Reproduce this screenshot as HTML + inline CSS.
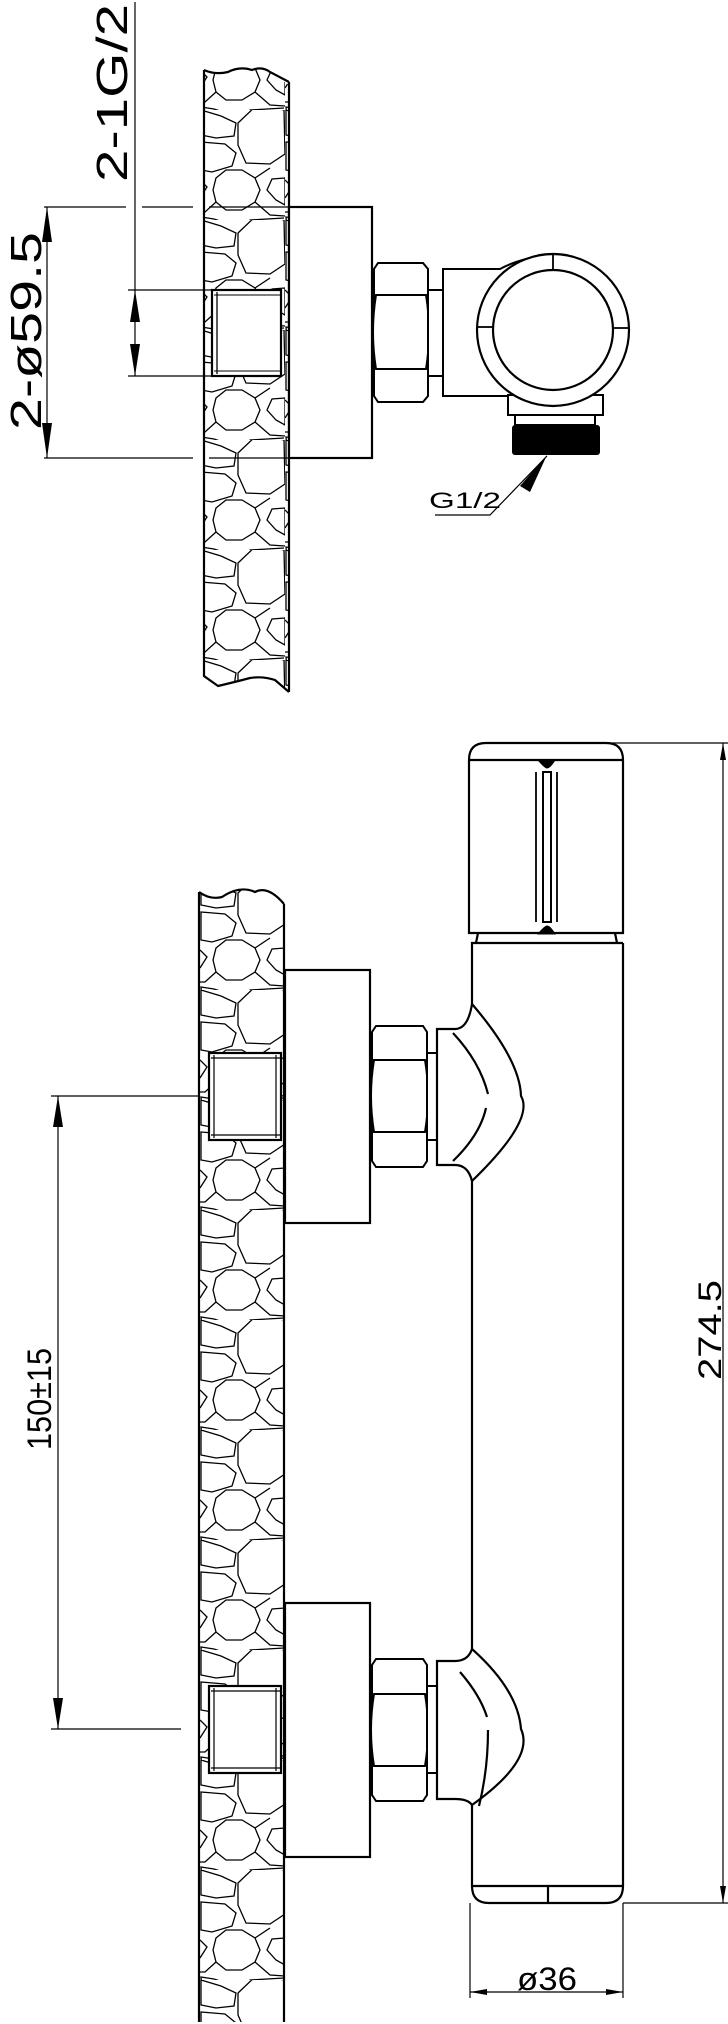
<!DOCTYPE html>
<html><head><meta charset="utf-8"><style>
html,body{margin:0;padding:0;background:#fff}
svg{display:block}
text{font-family:"Liberation Sans",sans-serif;fill:#000;font-weight:normal}
</style></head><body>
<svg width="728" height="2024" viewBox="0 0 728 2024" xmlns="http://www.w3.org/2000/svg">
<defs>
<pattern id="stone" x="200" y="0" width="85" height="110" patternUnits="userSpaceOnUse">
<g fill="none" stroke="#000" stroke-width="1.3" transform="translate(0,80)">
<polygon points="26,-20 42,-20 55,-12 60,0 55,12 42,20 26,20 16,12 13,0 16,-12"/>
<polygon points="1,-80 21,-74 36,-67 34,-54 16,-52 1,-55"/>
<polygon points="1,-48 25,-46 36,-37 32,-24 12,-18 1,-20"/>
<polygon points="38,-67 58,-86 84,-80 85,-36 70,-26 46,-27 38,-45"/>
<polygon points="85,-12 72,-11 67,0 76,10 85,15"/>
<polyline points="0,-10 7,-3 0,8"/>
<polygon points="1,27 14,29 35,36 39,46 35,58 18,58 3,52"/>
<polyline points="55,12 70,25 85,26"/>
<polyline points="38,46 50,30 84,28"/>
<polyline points="16,12 5,22 0,22"/>
<polyline points="55,-12 70,-22"/>
</g>
</pattern>
</defs>

<!-- ===== TOP VIEW ===== -->
<path d="M204,70 Q215,75 228,72 Q240,66 252,70 Q262,66 270,72 L289,85 L289,692 L275,680 Q262,676 250,678 Q235,682 222,686 L204,676 Z" fill="url(#stone)" stroke="none"/>
<path d="M204,70 L204,676 L218,686 Q235,682 250,678 Q262,676 275,680 L289,692 M289,82 L289,692 M204,70 Q215,75 228,72 Q240,66 252,70 Q262,66 270,72 L289,82" fill="none" stroke="#000" stroke-width="2.2"/>
<rect x="289" y="207" width="83" height="251" fill="#fff" stroke="#000" stroke-width="2.2"/>
<rect x="212" y="290" width="69" height="86" fill="#fff" stroke="#000" stroke-width="2.2"/>
<line x1="217" y1="292" x2="217" y2="374" stroke="#000" stroke-width="1.3"/>
<line x1="214" y1="295" x2="281" y2="295" stroke="#000" stroke-width="1"/>
<line x1="214" y1="371" x2="281" y2="371" stroke="#000" stroke-width="1"/>
<g fill="#fff" stroke="#000" stroke-width="2">
<path d="M378,263 L423,263 L428,269 L428,396 L423,402 L378,402 L374,396 L374,269 Z"/>
<path d="M376,295 L426,295 Q432,332 426,369 L376,369 Q370,332 376,295 Z"/>
<rect x="428" y="290" width="15" height="86"/>
<path d="M443,269 L500,269 Q520,258 553,254 L553,396 L443,396 Z"/>
<rect x="508" y="395" width="95" height="20"/>
<rect x="515" y="415" width="80" height="10"/>
</g>
<rect x="512" y="425" width="88" height="30" rx="3" fill="#000"/>
<circle cx="553" cy="330" r="76" fill="#fff" stroke="#000" stroke-width="2.2"/>
<circle cx="553" cy="330" r="60" fill="#fff" stroke="#000" stroke-width="2.2"/>
<g stroke="#000" stroke-width="1.8">
<line x1="553" y1="254" x2="553" y2="270"/>
<line x1="477" y1="327" x2="493" y2="327"/>
<line x1="613" y1="328" x2="629" y2="328"/>
</g>
<polyline points="547,456 490,515 435,515" fill="none" stroke="#000" stroke-width="1.2"/>
<polygon points="547,455 520,486 530,492" fill="#000"/>
<text x="429" y="508" font-size="22" textLength="72" lengthAdjust="spacingAndGlyphs">G1/2</text>
<g stroke="#000" stroke-width="1.2" fill="none">
<line x1="135" y1="2" x2="135" y2="376"/>
<path d="M44,207 L126,207 M142,207 L193,207 M209,207 L289,207"/>
<path d="M44,458 L193,458 M209,458 L289,458"/>
<line x1="47" y1="207" x2="47" y2="458"/>
<line x1="128" y1="290" x2="212" y2="290"/>
<line x1="128" y1="376" x2="212" y2="376"/>
</g>
<g fill="#000">
<polygon points="47,207 42,242 52,242"/>
<polygon points="47,458 42,423 52,423"/>
<polygon points="135,290 130,322 140,322"/>
<polygon points="135,376 130,344 140,344"/>
</g>
<text transform="translate(127,182) rotate(-90)" font-size="44" textLength="178" lengthAdjust="spacingAndGlyphs">2-1G/2</text>
<text transform="translate(41,430) rotate(-90)" font-size="44" textLength="198" lengthAdjust="spacingAndGlyphs">2-ø59.5</text>

<!-- ===== FRONT VIEW ===== -->
<path d="M199,892 Q210,900 222,897 Q240,885 255,892 Q268,885 284,904 L284,2022 L199,2022 Z" fill="url(#stone)" stroke="none"/>
<path d="M199,892 L199,2022 M284,904 L284,2022 M199,892 Q210,900 222,897 Q240,885 255,892 Q268,885 284,904" fill="none" stroke="#000" stroke-width="2.2"/>
<g fill="#fff" stroke="#000" stroke-width="2.2">
<rect x="285" y="970" width="85" height="253"/>
<rect x="285" y="1603" width="85" height="254"/>
<rect x="209" y="1053" width="72" height="87"/>
<rect x="209" y="1686" width="72" height="87"/>
</g>
<g stroke="#000" stroke-width="1.2">
<line x1="214" y1="1055" x2="214" y2="1138"/><line x1="211" y1="1058" x2="281" y2="1058"/><line x1="211" y1="1135" x2="281" y2="1135"/><line x1="276" y1="1055" x2="276" y2="1138"/>
<line x1="214" y1="1688" x2="214" y2="1771"/><line x1="211" y1="1691" x2="281" y2="1691"/><line x1="211" y1="1768" x2="281" y2="1768"/><line x1="276" y1="1688" x2="276" y2="1771"/>
</g>
<g fill="#fff" stroke="#000" stroke-width="2">
<path d="M376,1026 L423,1026 L427,1032 L427,1161 L423,1167 L376,1167 L372,1161 L372,1032 Z"/>
<path d="M374,1060 L425,1060 Q431,1096 425,1132 L374,1132 Q368,1096 374,1060 Z"/>
<rect x="427" y="1053" width="10" height="87"/>
<path d="M376,1659 L423,1659 L427,1665 L427,1795 L423,1801 L376,1801 L372,1795 L372,1665 Z"/>
<path d="M374,1694 L425,1694 Q431,1730 425,1766 L374,1766 Q368,1730 374,1694 Z"/>
<rect x="427" y="1686" width="10" height="87"/>
</g>
<g fill="none" stroke="#000" stroke-width="2.2">
<path d="M623,943 L623,1886 Q623,1903 606,1903 L489,1903 Q472,1903 472,1886 L472,1805"/>
<line x1="472" y1="1886" x2="623" y2="1886"/>
<line x1="548" y1="1886" x2="548" y2="1903"/>
<path d="M472,1649 L472,1181 M472,1004 L472,943 L623,943"/>
<path d="M472,1004 Q468,1029 455,1029 L437,1029 L437,1165 L455,1165 Q468,1165 472,1181 Q535,1120 521,1096 Q520,1060 472,1004 Z" fill="#fff"/>
<path d="M453,1033 Q480,1062 488,1094"/>
<path d="M486,1108 Q480,1135 453,1161"/>
<path d="M472,1649 Q468,1661 455,1661 L437,1661 L437,1799 L455,1799 Q468,1799 472,1805 Q535,1760 521,1729 Q518,1690 472,1649 Z" fill="#fff"/>
<path d="M460,1672 Q480,1695 487,1717"/>
<path d="M488,1730 Q488,1770 479,1806"/>
</g>
<g fill="#fff" stroke="#000" stroke-width="2.2">
<path d="M469,933 L469,760 Q469,743 486,743 L606,743 Q623,743 623,760 L623,933 Z"/>
<line x1="469" y1="760" x2="623" y2="760"/>
<path d="M478,933 L476,943 M615,933 L617,943" fill="none"/>
</g>
<g stroke="#000" fill="none">
<rect x="543" y="772" width="8" height="150" stroke-width="2"/>
<line x1="536" y1="772" x2="536" y2="922" stroke-width="1.8"/>
<line x1="557" y1="772" x2="557" y2="922" stroke-width="1.8"/>
<path d="M538,760 Q545,768 547,768 Q550,768 555,760 Z M538,934 Q545,926 547,926 Q550,926 555,934 Z" fill="#000" stroke-width="1"/>
</g>
<g stroke="#000" stroke-width="1.2" fill="none">
<line x1="609" y1="743" x2="728" y2="743"/>
<line x1="623" y1="1903" x2="728" y2="1903"/>
<line x1="723" y1="743" x2="723" y2="1903"/>
<line x1="51" y1="1096" x2="198" y2="1096"/>
<line x1="51" y1="1729" x2="181" y2="1729"/>
<line x1="58" y1="1096" x2="58" y2="1729"/>
<line x1="470" y1="1903" x2="470" y2="1998"/>
<line x1="623" y1="1903" x2="623" y2="1998"/>
<line x1="470" y1="1992" x2="623" y2="1992"/>
</g>
<g fill="#000">
<polygon points="58,1096 53,1127 63,1127"/>
<polygon points="58,1729 53,1698 63,1698"/>
<polygon points="723,743 720,760 726,760"/>
<polygon points="723,1903 720,1886 726,1886"/>
<polygon points="470,1992 487,1989 487,1995"/>
<polygon points="623,1992 606,1989 606,1995"/>
</g>
<text transform="translate(51,1450) rotate(-90)" font-size="34" textLength="102" lengthAdjust="spacingAndGlyphs">150±15</text>
<text transform="translate(721,1380) rotate(-90)" font-size="32" textLength="100" lengthAdjust="spacingAndGlyphs">274.5</text>
<text x="517" y="1990" font-size="32" textLength="60" lengthAdjust="spacingAndGlyphs">ø36</text>
</svg>
</body></html>
